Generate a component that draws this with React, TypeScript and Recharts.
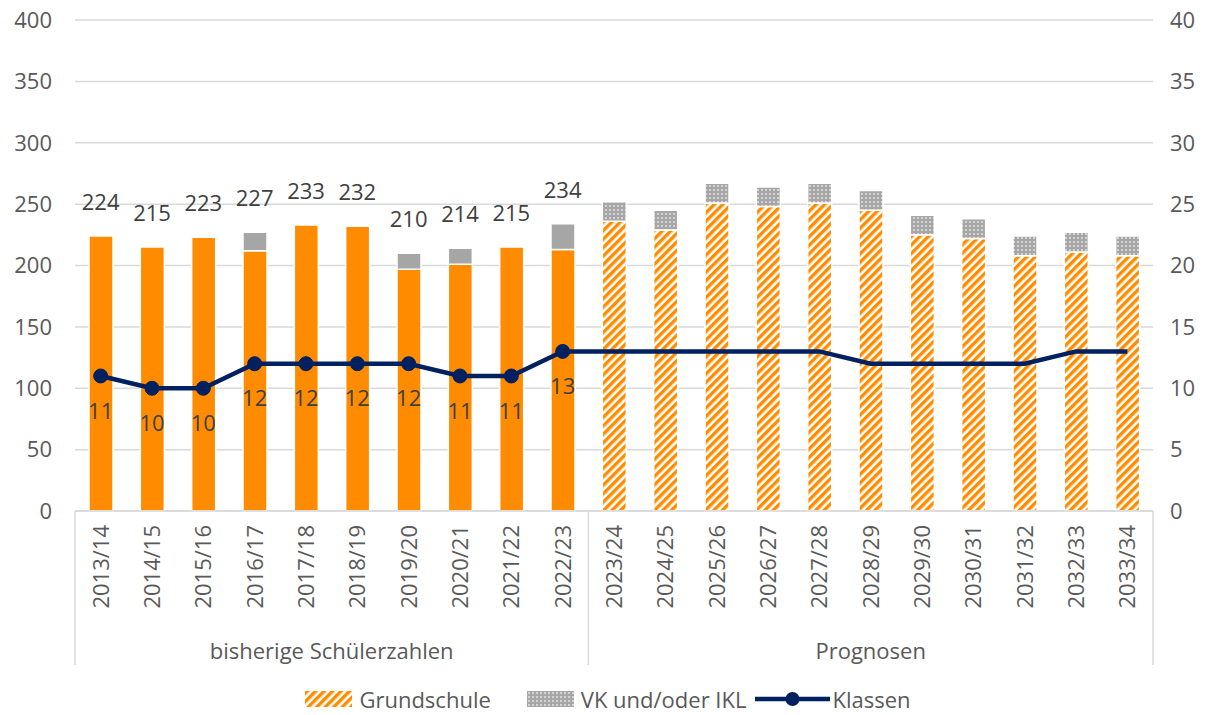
import React from 'react';
import {
  ComposedChart, Bar, Line, XAxis, YAxis, CartesianGrid, Legend, Cell, LabelList,
} from 'recharts';

const categories = [
  '2013/14', '2014/15', '2015/16', '2016/17', '2017/18', '2018/19', '2019/20',
  '2020/21', '2021/22', '2022/23', '2023/24', '2024/25', '2025/26', '2026/27',
  '2027/28', '2028/29', '2029/30', '2030/31', '2031/32', '2032/33', '2033/34',
];
const grundschule = [224, 215, 223, 212, 233, 232, 197, 201, 215, 213, 236, 229, 251, 248, 251, 245, 225, 222, 208, 211, 208];
const vkIkl = [0, 0, 0, 15, 0, 0, 13, 13, 0, 21, 16, 16, 16, 16, 16, 16, 16, 16, 16, 16, 16];
const totalLabels = [224, 215, 223, 227, 233, 232, 210, 214, 215, 234];
const klassen = [11, 10, 10, 12, 12, 12, 12, 11, 11, 13, 13, 13, 13, 13, 13, 12, 12, 12, 12, 13, 13];
const groupLabels = ['bisherige Schülerzahlen', 'Prognosen'];
const historyCount = 10;
const leftTicks = [0, 50, 100, 150, 200, 250, 300, 350, 400];
const rightTicks = [0, 5, 10, 15, 20, 25, 30, 35, 40];

const ORANGE = '#FF8C00';
const GRAY = '#A6A6A6';
const NAVY = '#002060';
const FONT = "'Open Sans', sans-serif";
const TICK_COLOR = '#595959';
const LABEL_COLOR = '#404040';
const AXIS_H = 154;

const data = categories.map((c, i) => ({
  name: c,
  gs: grundschule[i],
  vk: vkIkl[i],
  total: i < historyCount ? totalLabels[i] : null,
  klassen: klassen[i],
  klassenLabel: i < historyCount ? klassen[i] : null,
}));

const Patterns = ({ prefix }: { prefix: string }) => (
  <defs>
    <pattern id={`${prefix}stripe`} patternUnits="userSpaceOnUse" width="6" height="6" patternTransform="rotate(45)">
      <rect x="0" y="0" width="6" height="6" fill="#fff" />
      <rect x="0" y="0" width="3.4" height="6" fill={ORANGE} />
    </pattern>
    <pattern id={`${prefix}grid`} patternUnits="userSpaceOnUse" width="4" height="4">
      <rect x="0" y="0" width="4" height="4" fill={GRAY} />
      <rect x="1" y="1" width="2" height="2" fill="#d4d4d4" />
    </pattern>
  </defs>
);

const CategoryTick = (props: any) => {
  const { x, y, payload, index, width, visibleTicksCount } = props;
  const n = visibleTicksCount || categories.length;
  const band = payload && payload.offset ? payload.offset * 2 : width / n;
  const half = band / 2;
  const ty = y + 14;
  const lineStyle = { stroke: '#d9d9d9', strokeWidth: 1.5 };
  return (
    <g>
      <text
        x={x}
        y={ty}
        transform={`rotate(-90, ${x}, ${ty})`}
        textAnchor="end"
        dy="0.36em"
        fontFamily={FONT}
        fontSize={22}
        fill={TICK_COLOR}
      >
        {payload.value}
      </text>
      {index === 0 && (
        <>
          <line x1={x - half} x2={x - half} y1={y} y2={y + AXIS_H} {...lineStyle} />
          <text x={x - half + (historyCount * band) / 2} y={y + 148} textAnchor="middle" fontFamily={FONT} fontSize={22} fill={TICK_COLOR}>
            {groupLabels[0]}
          </text>
        </>
      )}
      {index === historyCount - 1 && (
        <line x1={x + half} x2={x + half} y1={y} y2={y + AXIS_H} {...lineStyle} />
      )}
      {index === historyCount && (
        <text x={x - half + ((n - historyCount) * band) / 2} y={y + 148} textAnchor="middle" fontFamily={FONT} fontSize={22} fill={TICK_COLOR}>
          {groupLabels[1]}
        </text>
      )}
      {index === n - 1 && (
        <line x1={x + half} x2={x + half} y1={y} y2={y + AXIS_H} {...lineStyle} />
      )}
    </g>
  );
};

const KlassenDot = (props: any) => {
  const { cx, cy, index } = props;
  if (index >= historyCount || cx == null || cy == null) return <g key={`d${index}`} />;
  return <circle key={`d${index}`} cx={cx} cy={cy} r={7} fill={NAVY} stroke={NAVY} />;
};

const LegendContent = () => (
  <div
    style={{
      height: 50,
      boxSizing: 'border-box',
      paddingTop: 19,
      display: 'flex',
      justifyContent: 'center',
      alignItems: 'flex-start',
      fontFamily: FONT,
      fontSize: 22,
      color: TICK_COLOR,
      lineHeight: '30px',
    }}
  >
    <div style={{ display: 'flex', alignItems: 'center', marginRight: 36 }}>
      <svg width={47} height={16} style={{ marginRight: 7 }}>
        <Patterns prefix="lg-" />
        <rect x={0} y={0} width={47} height={16} fill="url(#lg-stripe)" />
      </svg>
      <span>Grundschule</span>
    </div>
    <div style={{ display: 'flex', alignItems: 'center', marginRight: 9 }}>
      <svg width={47} height={16} style={{ marginRight: 7 }}>
        <rect x={0} y={0} width={47} height={16} fill="url(#lg-grid)" />
      </svg>
      <span>VK und/oder IKL</span>
    </div>
    <div style={{ display: 'flex', alignItems: 'center' }}>
      <svg width={75} height={18} style={{ marginRight: 2 }}>
        <line x1={0} x2={75} y1={9} y2={9} stroke={NAVY} strokeWidth={4.5} />
        <circle cx={37.5} cy={9} r={7} fill={NAVY} />
      </svg>
      <span>Klassen</span>
    </div>
  </div>
);

export default function App() {
  return (
    <div style={{ position: 'absolute', left: 0, top: 0, width: 1216, height: 715, background: '#fff', fontFamily: FONT }}>
      <ComposedChart
        width={1216}
        height={715}
        data={data}
        margin={{ top: 20, right: 0, bottom: 0, left: 0 }}
        barCategoryGap={0}
      >
        <Patterns prefix="c-" />
        <CartesianGrid vertical={false} stroke="#d9d9d9" strokeWidth={1.5} yAxisId="left" />
        <XAxis
          dataKey="name"
          interval={0}
          height={AXIS_H}
          tickSize={0}
          tickMargin={0}
          tickLine={false}
          axisLine={{ stroke: '#d9d9d9', strokeWidth: 1.5 }}
          tick={<CategoryTick />}
        />
        <YAxis
          yAxisId="left"
          orientation="left"
          width={75}
          domain={[0, 400]}
          ticks={leftTicks}
          interval={0}
          axisLine={false}
          tickLine={false}
          tickSize={0}
          tickMargin={23}
          tick={{ fontFamily: FONT, fontSize: 22, fill: TICK_COLOR }}
        />
        <YAxis
          yAxisId="right"
          orientation="right"
          width={63}
          domain={[0, 40]}
          ticks={rightTicks}
          interval={0}
          axisLine={false}
          tickLine={false}
          tickSize={0}
          tickMargin={17}
          tick={{ fontFamily: FONT, fontSize: 22, fill: TICK_COLOR, textAnchor: 'start' }}
        />
        <Legend verticalAlign="bottom" content={<LegendContent />} />
        <Bar yAxisId="left" dataKey="gs" stackId="a" barSize={24} stroke="#fff" strokeWidth={1.5} isAnimationActive={false} name="Grundschule">
          {data.map((d, i) => (
            <Cell key={`gs${i}`} fill={i < historyCount ? ORANGE : 'url(#c-stripe)'} />
          ))}
        </Bar>
        <Bar yAxisId="left" dataKey="vk" stackId="a" barSize={24} stroke="#fff" strokeWidth={1.5} isAnimationActive={false} name="VK und/oder IKL">
          {data.map((d, i) => (
            <Cell key={`vk${i}`} fill={i < historyCount ? GRAY : 'url(#c-grid)'} />
          ))}
        </Bar>
        <Line
          yAxisId="left"
          dataKey="total"
          stroke="none"
          dot={false}
          activeDot={false}
          legendType="none"
          isAnimationActive={false}
        >
          <LabelList dataKey="total" position="top" offset={26} fontFamily={FONT} fontSize={22} fill={LABEL_COLOR} />
        </Line>
        <Line
          yAxisId="right"
          dataKey="klassen"
          stroke={NAVY}
          strokeWidth={4.5}
          dot={<KlassenDot />}
          activeDot={false}
          isAnimationActive={false}
          name="Klassen"
        >
          <LabelList dataKey="klassenLabel" position="bottom" offset={27} fontFamily={FONT} fontSize={22} fill={LABEL_COLOR} />
        </Line>
      </ComposedChart>
    </div>
  );
}
